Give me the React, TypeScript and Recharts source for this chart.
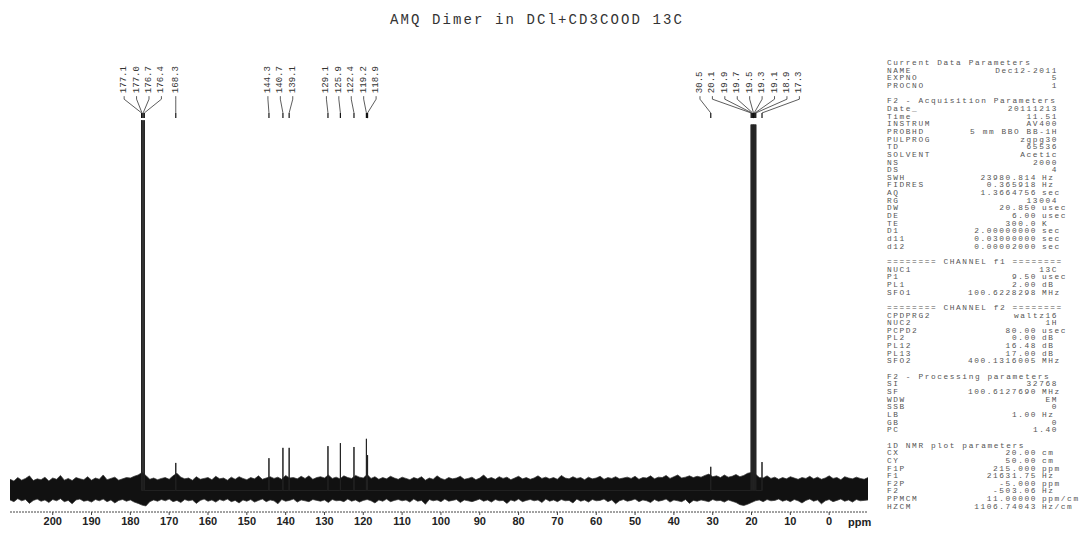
import { Area, ComposedChart, Line, ReferenceDot, ReferenceLine, XAxis, YAxis } from "recharts";

// noise envelope, one value per ppm from 211 down to -10
const bandTop = [
  2.6, 2.2, 3.0, 2.4, 2.8, 3.4, 2.3, 2.7, 2.5, 3.1, 2.2, 2.9, 2.6, 3.5, 2.4, 2.8, 2.3, 3.0, 2.7, 2.5,
  3.2, 2.4, 2.9, 2.6, 3.6, 2.5, 2.8, 3.1, 2.4, 2.7, 3.0, 2.9, 3.3, 3.6, 4.2, 3.5, 2.6, 2.9, 2.5, 2.8,
  3.0, 2.6, 3.4, 4.0, 3.1, 2.7, 2.9, 2.4, 3.2, 2.6, 2.8, 3.0, 2.5, 3.3, 2.7, 2.9, 2.4, 3.1, 2.6, 3.2,
  2.8, 2.5, 3.0, 2.7, 3.4, 2.6, 2.9, 3.2, 2.8, 3.1, 2.6, 3.5, 2.9, 3.0, 2.7, 3.3, 2.8, 3.4, 2.6, 3.0,
  3.2, 2.9, 3.6, 2.8, 3.1, 2.7, 3.4, 3.0, 2.8, 3.5, 3.1, 2.9, 3.7, 2.8, 3.2, 2.6, 3.0, 2.7, 3.3, 2.9,
  2.6, 3.1, 2.8, 2.5, 3.0, 2.7, 3.2, 2.4, 2.9, 2.6, 3.4, 2.8, 2.5, 3.0, 2.7, 2.9, 3.3, 2.6, 2.8, 3.1,
  2.5, 2.9, 3.6, 2.7, 3.0, 2.6, 3.2, 2.8, 3.1, 2.5, 2.9, 3.3, 2.7, 3.0, 2.6, 2.9, 3.4, 2.8, 3.1, 2.7,
  3.0, 2.6, 3.5, 2.9, 2.7, 3.2, 2.8, 3.0, 2.5, 3.1, 2.7, 2.9, 3.3, 2.6, 3.0, 2.8, 3.2, 2.7, 2.9, 3.1,
  2.8, 3.3, 2.6, 3.0, 2.9, 3.4, 2.7, 3.1, 3.0, 3.5, 2.8, 3.2, 3.6, 2.9, 3.1, 3.4, 3.0, 3.3, 3.1, 3.5,
  3.8, 3.2, 3.4, 3.0, 3.6, 3.1, 3.3, 3.7, 3.2, 3.5, 4.0, 4.2, 3.8, 3.0, 2.9, 3.4, 2.8, 3.1, 2.6, 3.0,
  2.7, 3.2, 2.9, 2.6, 3.0, 2.8, 3.3, 2.7, 3.1, 2.6, 2.9, 3.4, 2.8, 3.0, 2.5, 3.2, 2.9, 2.7, 3.1, 2.8,
  2.6, 3.0,
];
const bandBottom = [
  -2.2, -2.6, -1.9, -2.4, -2.1, -3.0, -2.3, -2.0, -2.5, -2.2, -2.8, -2.1, -2.4, -1.9, -2.6, -2.3, -3.1, -2.2, -2.0, -2.5,
  -2.3, -2.7, -2.1, -2.4, -2.0, -2.6, -2.2, -2.9, -2.3, -2.1, -2.5, -2.2, -2.7, -3.0, -3.4, -3.6, -2.6, -2.2, -2.5, -2.1,
  -2.4, -2.0, -2.6, -2.3, -2.8, -2.1, -2.4, -2.2, -3.0, -2.3, -2.0, -2.5, -2.2, -2.7, -2.1, -2.4, -2.0, -2.6, -2.3, -2.9,
  -2.2, -2.5, -2.1, -2.7, -2.3, -2.0, -2.6, -2.2, -2.4, -3.1, -2.1, -2.5, -2.3, -2.0, -2.7, -2.2, -2.4, -2.6, -2.1, -2.3,
  -2.5, -2.2, -2.8, -2.1, -2.4, -2.3, -2.6, -2.0, -2.5, -2.2, -2.7, -2.3, -2.1, -2.4, -2.9, -2.2, -2.5, -2.0, -2.6, -2.3,
  -2.1, -2.4, -2.2, -2.7, -2.0, -2.5, -2.3, -3.2, -2.1, -2.4, -2.2, -2.6, -2.0, -2.5, -2.3, -2.1, -2.8, -2.2, -2.4, -2.6,
  -2.3, -2.0, -2.5, -2.2, -2.7, -2.1, -2.4, -2.3, -3.0, -2.2, -2.5, -2.0, -2.6, -2.3, -2.1, -2.4, -2.2, -2.8, -2.0, -2.5,
  -2.2, -2.6, -2.1, -2.4, -2.3, -2.9, -2.0, -2.5, -2.2, -2.7, -2.1, -2.4, -2.3, -2.0, -2.6, -2.2, -3.1, -2.4, -2.1, -2.5,
  -2.3, -2.0, -2.6, -2.2, -2.4, -2.8, -2.1, -2.5, -2.3, -2.0, -2.7, -2.2, -2.4, -2.6, -2.1, -3.0, -2.3, -2.5, -2.2, -2.4,
  -2.6, -2.1, -2.4, -2.3, -2.7, -2.2, -2.5, -2.8, -3.3, -3.5, -3.2, -2.8, -2.4, -2.2, -2.6, -2.1, -2.4, -2.3, -2.0, -2.5,
  -2.2, -2.6, -2.1, -2.4, -2.9, -2.3, -2.0, -2.5, -2.2, -3.1, -2.4, -2.1, -2.6, -2.3, -2.0, -2.5, -2.2, -2.7, -2.1, -2.4,
  -2.3, -2.2,
];
const bandStartPpm = 211;

const peakPpm = [
  177.1, 177.0, 176.7, 176.4, 168.3, 144.3, 140.7, 139.1, 129.1, 125.9, 122.4, 119.2, 118.9,
  30.5, 20.1, 19.9, 19.7, 19.5, 19.3, 19.1, 18.9, 17.3,
];
const peakHeight = [
  86, 86, 86, 86, 6.4, 7.5, 9.9, 9.9, 10.3, 11, 10.1, 12, 8.2,
  5.5, 85, 85, 85, 85, 85, 85, 85, 6.6,
];

const xTicks = [200, 190, 180, 170, 160, 150, 140, 130, 120, 110, 100, 90, 80, 70, 60, 50, 40, 30, 20, 10, 0];

const title = "AMQ Dimer in DCl+CD3COOD 13C";

const params: [string, string, string][] = [
  ["Current Data Parameters", "", ""],
  ["NAME", "Dec12-2011", ""],
  ["EXPNO", "5", ""],
  ["PROCNO", "1", ""],
  ["", "", ""],
  ["F2 - Acquisition Parameters", "", ""],
  ["Date_", "20111213", ""],
  ["Time", "11.51", ""],
  ["INSTRUM", "AV400", ""],
  ["PROBHD", "5 mm BBO BB-1H", ""],
  ["PULPROG", "zgpg30", ""],
  ["TD", "65536", ""],
  ["SOLVENT", "Acetic", ""],
  ["NS", "2000", ""],
  ["DS", "4", ""],
  ["SWH", "23980.814", "Hz"],
  ["FIDRES", "0.365918", "Hz"],
  ["AQ", "1.3664756", "sec"],
  ["RG", "13004", ""],
  ["DW", "20.850", "usec"],
  ["DE", "6.00", "usec"],
  ["TE", "300.0", "K"],
  ["D1", "2.00000000", "sec"],
  ["d11", "0.03000000", "sec"],
  ["d12", "0.00002000", "sec"],
  ["", "", ""],
  ["======== CHANNEL f1 ========", "", ""],
  ["NUC1", "13C", ""],
  ["P1", "9.50", "usec"],
  ["PL1", "2.00", "dB"],
  ["SFO1", "100.6228298", "MHz"],
  ["", "", ""],
  ["======== CHANNEL f2 ========", "", ""],
  ["CPDPRG2", "waltz16", ""],
  ["NUC2", "1H", ""],
  ["PCPD2", "80.00", "usec"],
  ["PL2", "0.00", "dB"],
  ["PL12", "16.48", "dB"],
  ["PL13", "17.00", "dB"],
  ["SFO2", "400.1316005", "MHz"],
  ["", "", ""],
  ["F2 - Processing parameters", "", ""],
  ["SI", "32768", ""],
  ["SF", "100.6127690", "MHz"],
  ["WDW", "EM", ""],
  ["SSB", "0", ""],
  ["LB", "1.00", "Hz"],
  ["GB", "0", ""],
  ["PC", "1.40", ""],
  ["", "", ""],
  ["1D NMR plot parameters", "", ""],
  ["CX", "20.00", "cm"],
  ["CY", "50.00", "cm"],
  ["F1P", "215.000", "ppm"],
  ["F1", "21631.75", "Hz"],
  ["F2P", "-5.000", "ppm"],
  ["F2", "-503.06", "Hz"],
  ["PPMCM", "11.00000", "ppm/cm"],
  ["HZCM", "1106.74043", "Hz/cm"],
];

const bandRows = bandTop.map((top, i) => ({ ppm: bandStartPpm - i, band: [bandBottom[i], top] }));
const peakRows = peakPpm.flatMap((p, i) => [
  { ppm: p, y: 0 },
  { ppm: p, y: peakHeight[i] },
  { ppm: p, y: 0 },
]);

// push overlapping labels apart, like the spectrometer plot does
function spreadLabels(ppms: number[], gap: number) {
  const clusters = ppms.map((p) => ({ items: [p], center: p }));
  let merged = true;
  while (merged) {
    merged = false;
    for (let i = 0; i < clusters.length - 1; i++) {
      const a = clusters[i];
      const b = clusters[i + 1];
      const aLast = a.center - ((a.items.length - 1) / 2) * gap;
      const bFirst = b.center + ((b.items.length - 1) / 2) * gap;
      if (aLast - bFirst < gap) {
        const items = [...a.items, ...b.items];
        clusters.splice(i, 2, { items, center: items.reduce((s, v) => s + v, 0) / items.length });
        merged = true;
        break;
      }
    }
  }
  return clusters.flatMap((c) => c.items.map((_, i) => c.center + ((c.items.length - 1) / 2 - i) * gap));
}

const labelPpm = spreadLabels(peakPpm, 3.2);
const LABEL_Y = 92.3;
const LEAD = [91.6, 90.9, 87.7, 86.5];

function PeakText(props: any) {
  const { cx, cy, value } = props;
  return (
    <text
      x={cx}
      y={cy}
      transform={`rotate(-90 ${cx} ${cy})`}
      dominantBaseline="central"
      fontSize={9}
      fontFamily="Liberation Mono, monospace"
      fill="#333"
    >
      {value}
    </text>
  );
}

export default function App() {
  return (
    <div style={{ position: "absolute", left: 0, top: 0, width: 1080, height: 541, background: "#fff", overflow: "hidden" }}>
      <div
        style={{
          position: "absolute",
          left: 390,
          top: 12,
          fontFamily: "Liberation Mono, monospace",
          fontSize: 14,
          letterSpacing: 2.1,
          color: "#333",
          whiteSpace: "pre",
          lineHeight: "16px",
        }}
      >
        {title}
      </div>
      <ComposedChart
        width={1080}
        height={541}
        data={bandRows}
        margin={{ top: 60, right: 212, bottom: 4, left: 10 }}
        style={{ position: "absolute", left: 0, top: 0 }}
      >
        <XAxis
          dataKey="ppm"
          type="number"
          domain={[-10, 211]}
          reversed
          allowDataOverflow
          ticks={xTicks}
          interval={0}
          height={25}
          tickSize={3}
          tickMargin={2}
          axisLine={{ stroke: "#444", strokeDasharray: "2 1" }}
          tickLine={{ stroke: "#444" }}
          tick={{ fontSize: 11, fontWeight: 700, fill: "#222", fontFamily: "Liberation Sans, Arial, sans-serif" }}
        />
        <YAxis hide type="number" domain={[-5, 100]} allowDataOverflow />
        <Area
          dataKey="band"
          type="linear"
          fill="#111"
          fillOpacity={1}
          stroke="#333"
          strokeWidth={0.7}
          isAnimationActive={false}
        />
        <Line
          data={peakRows}
          dataKey="y"
          type="linear"
          stroke="#222"
          strokeWidth={1}
          dot={false}
          isAnimationActive={false}
        />
        {peakPpm.map((p, i) => (
          <ReferenceLine
            key={`a${i}`}
            segment={[{ x: labelPpm[i], y: LEAD[0] }, { x: labelPpm[i], y: LEAD[1] }]}
            stroke="#333"
            strokeWidth={0.8}
            ifOverflow="visible"
          />
        ))}
        {peakPpm.map((p, i) => (
          <ReferenceLine
            key={`b${i}`}
            segment={[{ x: labelPpm[i], y: LEAD[1] }, { x: p, y: LEAD[2] }]}
            stroke="#333"
            strokeWidth={0.8}
            ifOverflow="visible"
          />
        ))}
        {peakPpm.map((p, i) => (
          <ReferenceLine
            key={`c${i}`}
            segment={[{ x: p, y: LEAD[2] }, { x: p, y: LEAD[3] }]}
            stroke="#111"
            strokeWidth={1.2}
            ifOverflow="visible"
          />
        ))}
        {peakPpm.map((p, i) => (
          <ReferenceDot
            key={`t${i}`}
            x={labelPpm[i]}
            y={LABEL_Y}
            ifOverflow="visible"
            shape={(props: any) => <PeakText {...props} value={p.toFixed(1)} />}
          />
        ))}
      </ComposedChart>
      <svg width={1080} height={541} style={{ position: "absolute", left: 0, top: 0, pointerEvents: "none" }}>
        <text x={848} y={526} fontSize={11} fontWeight={700} fill="#222" fontFamily="Liberation Sans, Arial, sans-serif">
          ppm
        </text>
        <g fontFamily="Liberation Mono, monospace" fontSize={7.8} letterSpacing={1.6} fill="#555">
          {params.map(([label, value, unit], i) => {
            const y = 63 + i * 7.65;
            return (
              <g key={i}>
                {label ? (
                  <text x={887} y={y} dominantBaseline="middle" style={{ whiteSpace: "pre" }}>
                    {label}
                  </text>
                ) : null}
                {value ? (
                  <text x={unit ? 1037 : 1058} y={y} textAnchor="end" dominantBaseline="middle" style={{ whiteSpace: "pre" }}>
                    {value}
                  </text>
                ) : null}
                {unit ? (
                  <text x={1042} y={y} dominantBaseline="middle">
                    {unit}
                  </text>
                ) : null}
              </g>
            );
          })}
        </g>
      </svg>
    </div>
  );
}
